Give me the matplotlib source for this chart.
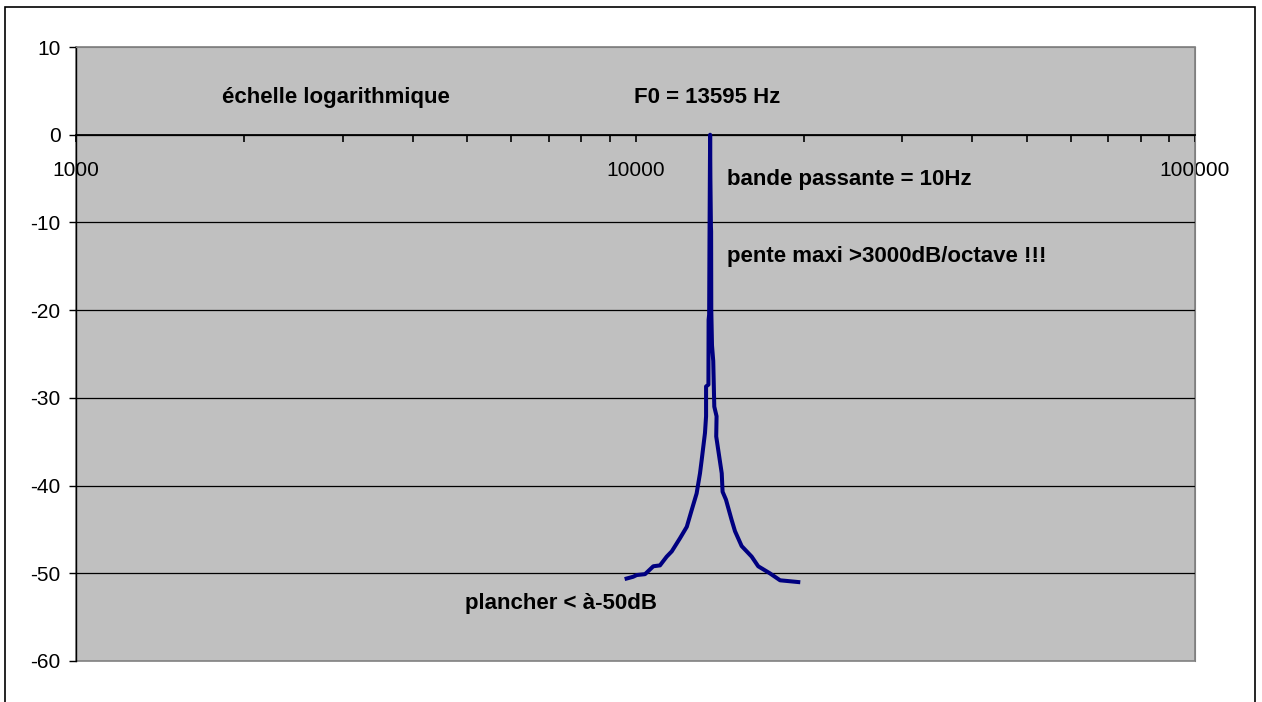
import numpy as np
import matplotlib.pyplot as plt
from matplotlib.patches import Rectangle
from matplotlib.ticker import LogLocator, FixedLocator, NullFormatter

plt.rcParams['font.family'] = ['Liberation Sans', 'DejaVu Sans']
plt.rcParams['axes.unicode_minus'] = False

# courbe de réponse du filtre
freq = [9640, 9900, 10050, 10400, 10760, 11060, 11370, 11610, 12010, 12350,
        12600, 12860, 13040, 13130, 13310, 13370, 13370, 13500, 13510, 13540,
        13560, 13580, 13595, 13610, 13640, 13650, 13660, 13700, 13770, 13830,
        13960, 13940, 14260, 14310, 14510, 14850, 15060, 15480, 16130, 16570,
        17380, 18130, 19540]
gain = [-50.6, -50.4, -50.2, -50.1, -49.2, -49.1, -48.1, -47.5, -46.0, -44.7,
        -42.8, -40.9, -38.6, -37.1, -34.0, -32.1, -28.7, -28.5, -21.1, -20.5,
        -12.0, -5.0, 0.0, -5.0, -10.5, -11.0, -20.0, -24.0, -25.8, -31.0,
        -32.1, -34.4, -38.6, -40.7, -41.6, -43.9, -45.2, -46.9, -48.1, -49.2,
        -50.0, -50.8, -51.0]

yticks = [-60, -50, -40, -30, -20, -10, 0, 10]
xticks = [1000, 10000, 100000]

fig = plt.figure(figsize=(12.62, 7.02), dpi=100)
ax = fig.add_axes([76 / 1262, 1 - 661 / 702, (1195 - 76) / 1262, (661 - 47) / 702])
ax.set_facecolor('#c0c0c0')

ax.plot(freq, gain, color='#000080', lw=2.9, solid_joinstyle='round', zorder=3)

ax.set_xscale('log')
ax.set_xlim(1000, 100000)
ax.set_ylim(-60, 10)

for v in yticks[1:-1]:
    ax.axhline(v, color='black', lw=0.9, zorder=1)

# axe des x qui coupe à 0
ax.spines['bottom'].set_position(('data', 0))
ax.spines['bottom'].set_color('black')
ax.spines['bottom'].set_linewidth(1.3)
ax.spines['left'].set_color('black')
ax.spines['left'].set_linewidth(1.0)
ax.spines['top'].set_color('#808080')
ax.spines['right'].set_color('#808080')
ax.add_patch(Rectangle((0, 0), 1, 1, transform=ax.transAxes, fill=False,
                       edgecolor='#808080', lw=1.2, zorder=0.5, clip_on=False))

ax.xaxis.set_major_locator(FixedLocator(xticks))
ax.set_xticklabels([str(v) for v in xticks])
ax.xaxis.set_minor_locator(LogLocator(base=10, subs=np.arange(2, 10)))
ax.xaxis.set_minor_formatter(NullFormatter())
ax.tick_params(axis='x', which='both', direction='out', length=5, width=1.2,
               pad=14, labelsize=15)
ax.set_yticks(yticks)
ax.tick_params(axis='y', direction='out', length=5, width=1.0, pad=6, labelsize=15)

bold = dict(fontsize=16, fontweight='bold', color='black')
ax.text(2920, 4.2, 'échelle logarithmique', ha='center', va='center', **bold)
ax.text(13425, 4.2, 'F0 = 13595 Hz', ha='center', va='center', **bold)
ax.text(14570, -5.1, 'bande passante = 10Hz', ha='left', va='center', **bold)
ax.text(14570, -13.9, 'pente maxi >3000dB/octave !!!', ha='left', va='center', **bold)
ax.text(4960, -53.5, 'plancher < à-50dB', ha='left', va='center', **bold)

fig.add_artist(Rectangle((5 / 1262, -0.01), 1250 / 1262, 1 - 7 / 702 + 0.01,
                         transform=fig.transFigure, fill=False, edgecolor='black', lw=1.2))

plt.savefig('out.png', dpi=100)
plt.close()
